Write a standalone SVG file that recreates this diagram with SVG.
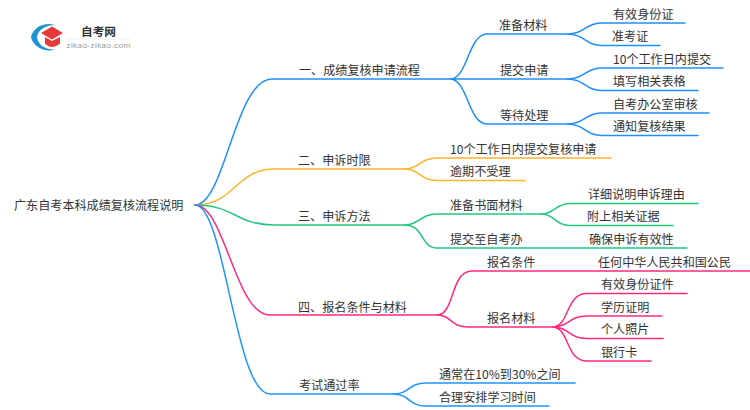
<svg xmlns="http://www.w3.org/2000/svg" width="750" height="410" viewBox="0 0 750 410">
<style>
text{font-family:"Noto Sans CJK SC","Liberation Sans",sans-serif;font-size:12.1px;fill:#333}
.c{fill:none;stroke-width:1.5;stroke-linecap:round}
.b{stroke:#1f8fff}.y{stroke:#ffb429}.g{stroke:#1fc77e}.p{stroke:#ff2a7f}.l{stroke:#1f94ff}
</style>
<rect width="750" height="410" fill="#fff"/>
<g id="logo">
<path d="M55 25C45 21.500 33 27 31 37C33 47 45 53 55 49.500C47 50 38 46 37 37C38 29 47 25 55 25Z" fill="#1e93d3"/>
<path d="M52 26.500L63 33L52 39.500L41 33Z" fill="#e8393a"/>
<path d="M45 37L52 41L60 37V43.500C57 46 54 47 52 47C50 47 47 46 45 43.500Z" fill="#e8393a"/>
<text x="98.500" y="35.500" text-anchor="middle" style="font-size:11.700px;font-weight:700">自考网</text>
<line x1="66" y1="39" x2="130" y2="39" stroke="#e6e6e6" stroke-width="0.700"/>
<text x="98.500" y="48" text-anchor="middle" style="font-family:'Liberation Sans',sans-serif;font-size:8px;fill:#999;letter-spacing:0.450px">zikao-zikao.com</text>
</g>
<g id="connectors">
<path class="c b" d="M195 205C225 205 235 79 272 79H450"/>
<path class="c b" d="M450 79C468 79 468 34 487 34H567M450 79C468 79 468 124 487 124H567M450 79H567"/>
<path class="c b" d="M567 34C585 34 585 23 602 23H685M567 34C585 34 585 45.500 602 45.500H660"/>
<path class="c b" d="M567 79C585 79 585 68 602 68H723M567 79C585 79 585 90.500 602 90.500H698"/>
<path class="c b" d="M567 124C585 124 585 113 602 113H709M567 124C585 124 585 135.500 602 135.500H698"/>
<path class="c y" d="M195 205C235 205 235 169 275 169H404"/>
<path class="c y" d="M404 169C420 169 420 158 437 158H611M404 169C420 169 420 180.500 437 180.500H525"/>
<path class="c g" d="M195 205C235 205 235 225 275 225H404"/>
<path class="c g" d="M404 225C420 225 420 214 437 214H541M404 225C425 225 420 248 437 248H687"/>
<path class="c g" d="M541 214C555 214 555 203.500 570 203.500H698M541 214C555 214 555 225.500 570 225.500H673"/>
<path class="c p" d="M195 205C225 205 235 315 270 315H437"/>
<path class="c p" d="M437 315C455 315 450 271 472 271H750M437 315C452 315 450 327 468 327H552"/>
<path class="c p" d="M552 327C570 327 565 293.500 587 293.500H687M552 327C570 327 568 316 587 316H662M552 327C570 327 568 338.500 587 338.500H663M552 327C570 327 565 361 587 361H651"/>
<path class="c l" d="M195 205C225 205 235 394 270 394H393"/>
<path class="c l" d="M393 394C410 394 408 383 426 383H575M393 394C410 394 408 406 426 406H549"/>
</g>
<g id="labels" transform="translate(0,0.7)">
<g id="root"><text x="14" y="209">广东自考本科成绩复核流程说明</text></g>
<g id="n1"><text x="299" y="74">一、成绩复核申请流程</text></g>
<g id="n1a"><text x="499" y="29">准备材料</text></g>
<g id="n1a1"><text x="613" y="18">有效身份证</text></g>
<g id="n1a2"><text x="612" y="40">准考证</text></g>
<g id="n1b"><text x="500" y="74">提交申请</text></g>
<g id="n1b1"><text x="613" y="63">10个工作日内提交</text></g>
<g id="n1b2"><text x="613" y="85">填写相关表格</text></g>
<g id="n1c"><text x="500" y="119">等待处理</text></g>
<g id="n1c1"><text x="613" y="108">自考办公室审核</text></g>
<g id="n1c2"><text x="613" y="130">通知复核结果</text></g>
<g id="n2"><text x="298" y="164">二、申诉时限</text></g>
<g id="n2a"><text x="450" y="153">10个工作日内提交复核申请</text></g>
<g id="n2b"><text x="450" y="175">逾期不受理</text></g>
<g id="n3"><text x="298" y="220">三、申诉方法</text></g>
<g id="n3a"><text x="450" y="209">准备书面材料</text></g>
<g id="n3a1"><text x="588" y="198">详细说明申诉理由</text></g>
<g id="n3a2"><text x="587" y="220">附上相关证据</text></g>
<g id="n3b"><text x="450" y="243">提交至自考办</text></g>
<g id="n3b1"><text x="589" y="243">确保申诉有效性</text></g>
<g id="n4"><text x="298" y="311">四、报名条件与材料</text></g>
<g id="n4a"><text x="487" y="266">报名条件</text></g>
<g id="n4a1"><text x="598" y="266">任何中华人民共和国公民</text></g>
<g id="n4b"><text x="487" y="322">报名材料</text></g>
<g id="n4b1"><text x="601" y="288">有效身份证件</text></g>
<g id="n4b2"><text x="601" y="311">学历证明</text></g>
<g id="n4b3"><text x="601" y="333">个人照片</text></g>
<g id="n4b4"><text x="601" y="356">银行卡</text></g>
<g id="n5"><text x="299" y="389">考试通过率</text></g>
<g id="n5a"><text x="439" y="378">通常在10%到30%之间</text></g>
<g id="n5b"><text x="439" y="401">合理安排学习时间</text></g>
</g>
</svg>
